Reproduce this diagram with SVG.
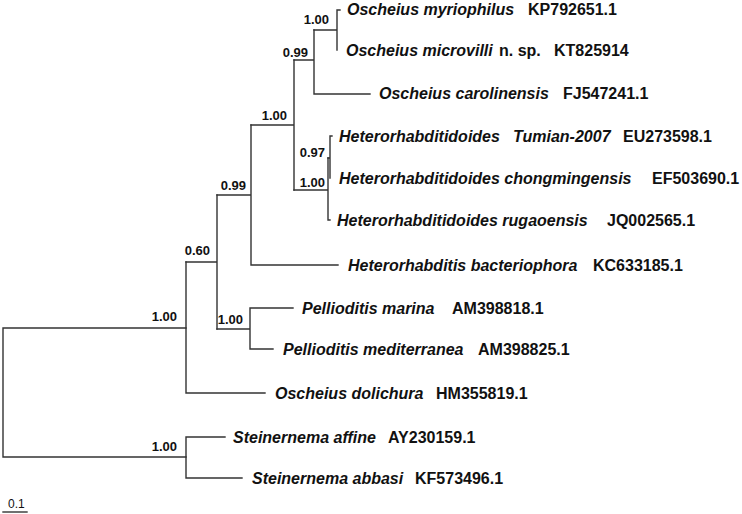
<svg xmlns="http://www.w3.org/2000/svg" width="742" height="514" viewBox="0 0 742 514">
<style>
.br{stroke:#333;stroke-width:1.4;fill:none;stroke-linecap:square}
.sp{font-family:"Liberation Sans",Arial,sans-serif;font-size:16px;font-weight:bold;font-style:italic;fill:#111}
.ac{font-family:"Liberation Sans",Arial,sans-serif;font-size:16px;font-weight:bold;fill:#111}
.bs{font-family:"Liberation Sans",Arial,sans-serif;font-size:13px;font-weight:bold;fill:#111;text-anchor:end}
.sc{font-family:"Liberation Sans",Arial,sans-serif;font-size:12px;fill:#111}
</style>
<rect width="742" height="514" fill="#fff"/>
<g id="connectors" class="br">
<path d="M3,328V457M3,328H186M3,457H186"/>
<path d="M186,437V478M186,437H225M186,478H242"/>
<path d="M186,262V393M186,393H265"/>
<path d="M186,262H217M217,195V329"/>
<path d="M217,329H250M250,308V349M250,308H293M250,349H273"/>
<path d="M217,195H251M251,125V265M251,265H338"/>
<path d="M251,125H294M294,60V190"/>
<path d="M294,60H314M314,30V94M314,94H370"/>
<path d="M314,30H337M337,10V50M337,10H340"/>
<path d="M294,190H328M328,158V220M328,220H330"/>
<path d="M328,158H330M330,136V178M330,136H332"/>
<path d="M3,512H27"/>
</g>
<g id="support">
<text class="bs" x="177" y="321">1.00</text>
<text class="bs" x="177" y="451">1.00</text>
<text class="bs" x="210" y="255">0.60</text>
<text class="bs" x="243" y="324">1.00</text>
<text class="bs" x="246" y="190">0.99</text>
<text class="bs" x="287" y="120">1.00</text>
<text class="bs" x="308" y="57">0.99</text>
<text class="bs" x="329" y="24">1.00</text>
<text class="bs" x="325" y="157">0.97</text>
<text class="bs" x="325" y="187">1.00</text>
</g>
<g id="leaf-myriophilus"><text class="sp" x="347" y="15">Oscheius myriophilus</text><text class="ac" x="528" y="15">KP792651.1</text></g>
<g id="leaf-microvilli"><text class="sp" x="346" y="56">Oscheius microvilli</text><text class="ac" x="499" y="56">n. sp.</text><text class="ac" x="554" y="56">KT825914</text></g>
<g id="leaf-carolinensis"><text class="sp" x="379" y="99">Oscheius carolinensis</text><text class="ac" x="563" y="99">FJ547241.1</text></g>
<g id="leaf-tumian"><text class="sp" x="339" y="142">Heterorhabditidoides</text><text class="sp" x="513" y="142">Tumian-2007</text><text class="ac" x="623" y="142">EU273598.1</text></g>
<g id="leaf-chongmingensis"><text class="sp" x="339" y="184">Heterorhabditidoides chongmingensis</text><text class="ac" x="652" y="184">EF503690.1</text></g>
<g id="leaf-rugaoensis"><text class="sp" x="337" y="226">Heterorhabditidoides rugaoensis</text><text class="ac" x="607" y="226">JQ002565.1</text></g>
<g id="leaf-bacteriophora"><text class="sp" x="348" y="271">Heterorhabditis bacteriophora</text><text class="ac" x="593" y="271">KC633185.1</text></g>
<g id="leaf-marina"><text class="sp" x="302" y="314">Pellioditis marina</text><text class="ac" x="452" y="314">AM398818.1</text></g>
<g id="leaf-mediterranea"><text class="sp" x="283" y="355">Pellioditis mediterranea</text><text class="ac" x="478" y="355">AM398825.1</text></g>
<g id="leaf-dolichura"><text class="sp" x="275" y="399">Oscheius dolichura</text><text class="ac" x="436" y="399">HM355819.1</text></g>
<g id="leaf-affine"><text class="sp" x="233" y="443">Steinernema affine</text><text class="ac" x="388" y="443">AY230159.1</text></g>
<g id="leaf-abbasi"><text class="sp" x="252" y="484">Steinernema abbasi</text><text class="ac" x="415" y="484">KF573496.1</text></g>
<g id="scale"><text class="sc" x="8" y="508">0.1</text></g>
</svg>
